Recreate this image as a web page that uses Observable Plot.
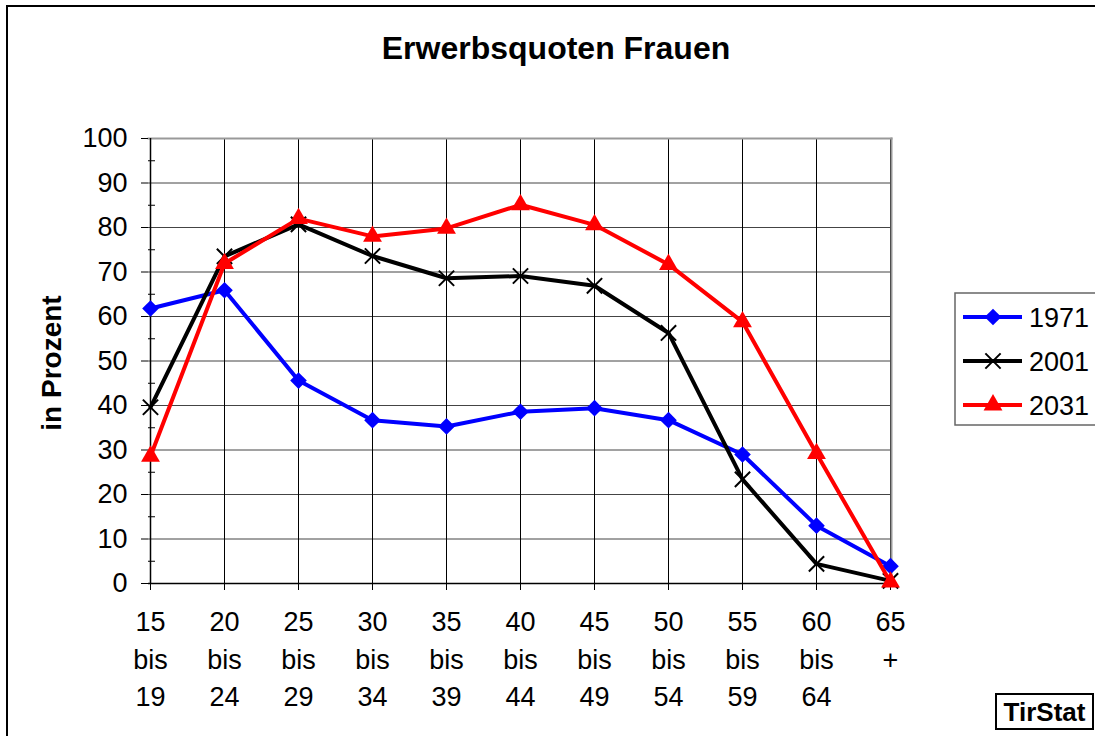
<!DOCTYPE html>
<html>
<head>
<meta charset="utf-8">
<script src="https://cdn.jsdelivr.net/npm/d3@7"></script>
<script src="https://cdn.jsdelivr.net/npm/@observablehq/plot@0.6"></script>
<style>
  html, body { margin: 0; padding: 0; background: #fff; overflow: hidden; }
  #wrap { position: relative; width: 1095px; height: 736px; overflow: hidden; font-family: "Liberation Sans", Arial, sans-serif; }
  #wrap > * { position: absolute; left: 0; top: 0; }
</style>
</head>
<body>
<div id="wrap"></div>
<script>
// ---- data ----
const categories = ["15 bis 19", "20 bis 24", "25 bis 29", "30 bis 34", "35 bis 39", "40 bis 44", "45 bis 49", "50 bis 54", "55 bis 59", "60 bis 64", "65 +"];
const tickLabels = ["15\nbis\n19", "20\nbis\n24", "25\nbis\n29", "30\nbis\n34", "35\nbis\n39", "40\nbis\n44", "45\nbis\n49", "50\nbis\n54", "55\nbis\n59", "60\nbis\n64", "65\n+\n"];
const seriesNames = ["1971", "2001", "2031"];
const values1971 = [61.8, 65.9, 45.6, 36.7, 35.3, 38.6, 39.4, 36.7, 29.0, 13.0, 3.9];
const values2001 = [39.6, 73.5, 80.7, 73.6, 68.6, 69.1, 66.9, 56.3, 23.4, 4.4, 0.6];
const values2031 = [28.6, 71.9, 82.0, 78.0, 79.8, 85.1, 80.6, 71.7, 58.8, 29.2, 0.3];
const yTicks = [0, 10, 20, 30, 40, 50, 60, 70, 80, 90, 100];
const yMinorTicks = [5, 15, 25, 35, 45, 55, 65, 75, 85, 95];
const titleText = "Erwerbsquoten Frauen";
const yLabelText = "in Prozent";
const sourceText = "TirStat";

// styles
const colors = {"1971": "#0000ff", "2001": "#000000", "2031": "#ff0000"};
const symbols = {"1971": "diamond2", "2001": "times", "2031": "triangle"};

const allValues = [values1971, values2001, values2031];
const rows = [];
seriesNames.forEach((s, i) => categories.forEach((c, j) => rows.push({series: s, cat: c, value: allValues[i][j]})));
const labelOf = new Map(categories.map((c, i) => [c, tickLabels[i]]));

const font = '"Liberation Sans", Arial, sans-serif';

const marks = [
  Plot.gridY(yTicks, {stroke: "#444", strokeOpacity: 1, strokeWidth: 1}),
  Plot.gridX(categories, {stroke: "#000", strokeOpacity: 1, strokeWidth: 1}),
  Plot.frame({anchor: "top", stroke: "#999", strokeWidth: 2}),
  Plot.frame({anchor: "right", stroke: "#999", strokeWidth: 2}),
  Plot.axisY(yTicks, {tickSize: 7, tickPadding: 14, fontSize: 27, label: null, stroke: "#000"}),
  Plot.axisY(yMinorTicks, {tickSize: -7, text: null, label: null, stroke: "#000"}),
  Plot.axisX(categories, {tickSize: 7, tickPadding: 14, fontSize: 27, lineHeight: 1.39, label: null,
    tickFormat: d => labelOf.get(d), stroke: "#000"}),
  Plot.ruleX(categories.slice(0, 1), {stroke: "#000", strokeWidth: 1.5}),
  Plot.ruleY([0], {stroke: "#000", strokeWidth: 1.5})
];

for (const s of seriesNames) {
  const data = rows.filter(d => d.series === s);
  marks.push(Plot.line(data, {x: "cat", y: "value", stroke: colors[s], strokeWidth: 4}));
  if (s === "2001") {
    marks.push(Plot.dot(data, {x: "cat", y: "value", symbol: symbols[s], r: 7, stroke: colors[s], strokeWidth: 2}));
  } else {
    marks.push(Plot.dot(data, {x: "cat", y: "value", symbol: symbols[s], r: s === "1971" ? 7.5 : 7, fill: colors[s], stroke: "none"}));
  }
}

const chart = Plot.plot({
  width: 1095,
  height: 736,
  marginLeft: 148,
  marginRight: 204,
  marginTop: 138,
  marginBottom: 153,
  style: {fontFamily: font, fontSize: "27px", color: "#000", background: "transparent"},
  x: {type: "point", domain: categories, padding: 0},
  y: {domain: [0, 100]},
  marks
});

const wrap = document.getElementById("wrap");
wrap.appendChild(chart);

// overlay: frame, title, y-label, legend, source box
const svg = d3.select(wrap).append("svg")
  .attr("width", 1095).attr("height", 736)
  .style("pointer-events", "none")
  .style("font-family", font);

svg.append("rect").attr("x", 7).attr("y", 6).attr("width", 1200).attr("height", 800)
  .attr("fill", "none").attr("stroke", "#000").attr("stroke-width", 2);

svg.append("text").attr("x", 556).attr("y", 59).attr("text-anchor", "middle")
  .attr("font-size", 32).attr("font-weight", "bold").text(titleText);

svg.append("text").attr("transform", "translate(61,363) rotate(-90)").attr("text-anchor", "middle")
  .attr("font-size", 28).attr("font-weight", "bold").text(yLabelText);

// legend
svg.append("rect").attr("x", 955).attr("y", 293).attr("width", 200).attr("height", 132)
  .attr("fill", "#fff").attr("stroke", "#666").attr("stroke-width", 1.5);
const symMap = {diamond2: d3.symbolDiamond2, times: d3.symbolTimes, triangle: d3.symbolTriangle};
seriesNames.forEach((s, i) => {
  const cy = 317 + i * 44;
  const g = svg.append("g");
  g.append("line").attr("x1", 963).attr("x2", 1022).attr("y1", cy).attr("y2", cy)
    .attr("stroke", colors[s]).attr("stroke-width", 4);
  const size = Math.PI * (s === "1971" ? 7.5 : 7) ** 2;
  const p = g.append("path").attr("transform", `translate(993,${cy})`)
    .attr("d", d3.symbol(symMap[symbols[s]], size)());
  if (s === "2001") p.attr("fill", "none").attr("stroke", colors[s]).attr("stroke-width", 2);
  else p.attr("fill", colors[s]);
  g.append("text").attr("x", 1029).attr("y", cy + 9.5).attr("font-size", 27).text(s);
});

// source box
svg.append("rect").attr("x", 996).attr("y", 694).attr("width", 97).attr("height", 35)
  .attr("fill", "#fff").attr("stroke", "#000").attr("stroke-width", 2);
svg.append("text").attr("x", 1044.5).attr("y", 721).attr("text-anchor", "middle")
  .attr("font-size", 26).attr("font-weight", "bold").text(sourceText);
</script>
</body>
</html>
